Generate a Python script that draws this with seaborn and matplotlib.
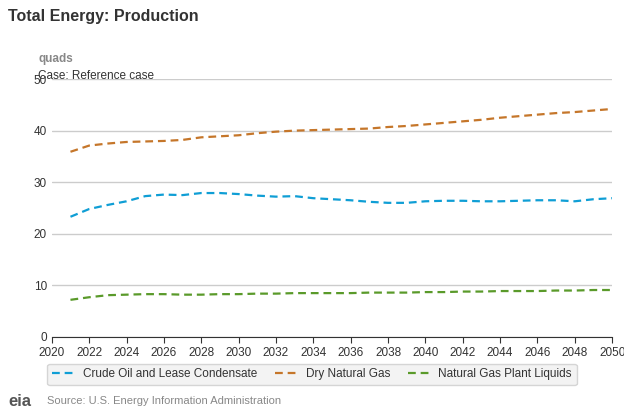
import matplotlib
matplotlib.use("Agg")
import matplotlib.pyplot as plt
import seaborn as sns
import pandas as pd

years = list(range(2021, 2051))
crude = [23.3,24.8,25.6,26.3,27.3,27.6,27.5,27.9,27.9,27.7,27.4,27.2,27.3,26.9,26.7,26.5,26.2,26.0,26.0,26.3,26.4,26.4,26.3,26.3,26.4,26.5,26.5,26.3,26.7,26.9]
gas = [35.9,37.1,37.5,37.8,37.9,38.0,38.2,38.7,38.9,39.1,39.5,39.8,40.0,40.1,40.2,40.3,40.4,40.7,40.9,41.2,41.5,41.8,42.1,42.5,42.8,43.1,43.4,43.6,43.9,44.2]
ngpl = [7.2,7.7,8.1,8.2,8.3,8.3,8.2,8.2,8.3,8.3,8.4,8.4,8.5,8.5,8.5,8.5,8.6,8.6,8.6,8.7,8.7,8.8,8.8,8.9,8.9,8.9,9.0,9.0,9.1,9.1]
names = ["Crude Oil and Lease Condensate", "Dry Natural Gas", "Natural Gas Plant Liquids"]
colors = ["#0f9ed5", "#c5762a", "#5a9a2a"]

df = pd.DataFrame({"year": years * 3,
                   "value": crude + gas + ngpl,
                   "series": sum([[n] * len(years) for n in names], [])})

sns.set_style("white")
plt.rcParams['font.family'] = ['Liberation Sans', 'DejaVu Sans']
fig = plt.figure(figsize=(6.24, 4.16), dpi=100)
ax = fig.add_axes([0.083, 0.19, 0.898, 0.62])
sns.lineplot(data=df, x="year", y="value", hue="series", palette=colors,
             ax=ax, linewidth=1.6, legend=False)
for l in ax.lines:
    l.set_linestyle((0, (3.5, 2.2)))
ax.set_xlim(2020, 2050)
ax.set_ylim(0, 50)
ax.set_xticks(range(2020, 2051, 2))
ax.set_yticks(range(0, 51, 10))
ax.yaxis.grid(True, color="#cccccc", linewidth=1)
for s in ["top", "right", "left"]:
    ax.spines[s].set_visible(False)
ax.spines["bottom"].set_color("#333333")
ax.tick_params(axis="x", length=4, color="#333333", labelsize=8.5, colors="#333333", direction="out", bottom=True)
ax.tick_params(axis="y", length=0, labelsize=8.5, colors="#333333")
ax.set_xlabel(""); ax.set_ylabel("")

fig.text(0.013, 0.95, "Total Energy: Production", fontsize=11.5, fontweight="bold", color="#333333")
fig.text(0.061, 0.852, "quads", fontsize=8.5, fontweight="bold", color="#888888")
fig.text(0.061, 0.81, "Case: Reference case", fontsize=8.5, color="#333333")

from matplotlib.lines import Line2D
handles = [Line2D([], [], color=c, linestyle=(0, (3.5, 2.2)), linewidth=1.6) for c in colors]
fig.legend(handles, names, loc="center", bbox_to_anchor=(0.5, 0.1), ncol=3, fontsize=8.5,
           frameon=True, facecolor="#f0f0f0", edgecolor="#cccccc", handlelength=1.8,
           columnspacing=1.5, labelcolor="#333333")
fig.text(0.013, 0.025, "eia", fontsize=12, fontweight="bold", color="#555555")
fig.text(0.075, 0.03, "Source: U.S. Energy Information Administration", fontsize=8, color="#888888")
fig.savefig("out.png", dpi=100)
